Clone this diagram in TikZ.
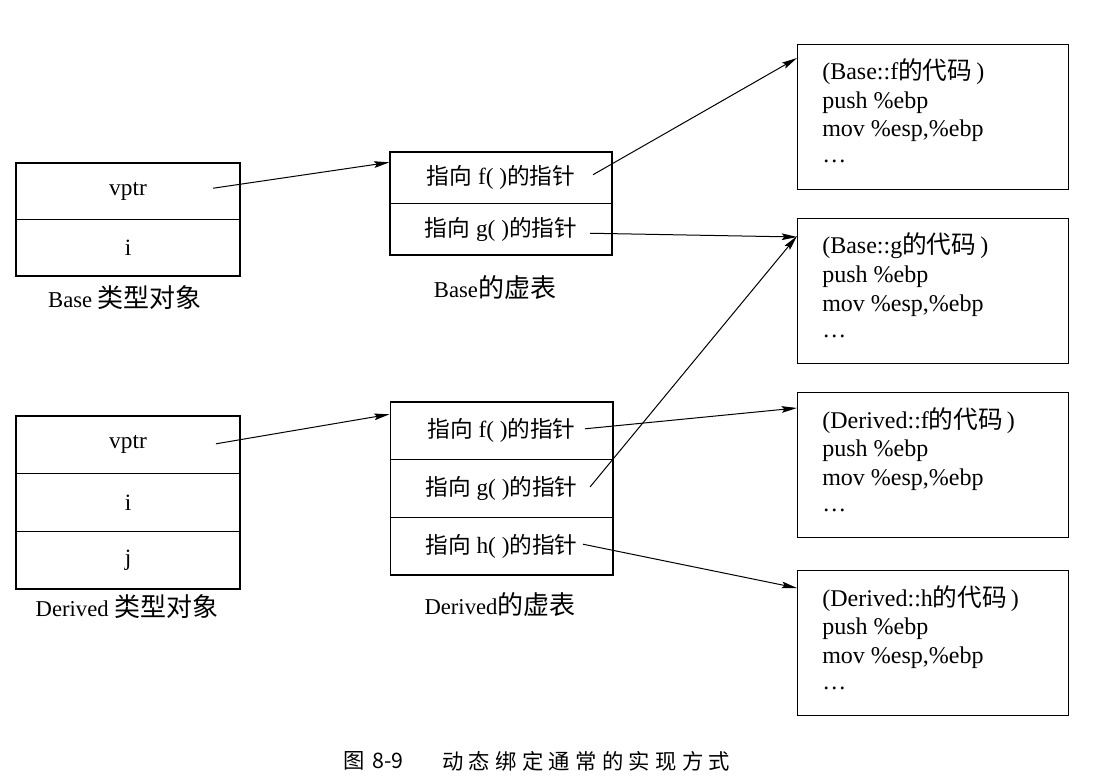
\documentclass[tikz,border=0pt]{standalone}
\usepackage{fontspec}
\setmainfont{Liberation Serif}
\newfontfamily\cjkf{Noto Sans CJK SC}
\newfontfamily\capfont[LetterSpace=25]{Noto Sans CJK SC}
\newcommand\zhc[1]{{\fontsize{17}{17}\cjkf #1}}
\newcommand\zhl[1]{{\fontsize{19.5}{19.5}\cjkf #1}}
\newcommand\zhk[1]{{\fontsize{18.5}{18.5}\cjkf #1}}
\usetikzlibrary{arrows.meta,calc}
\begin{document}
\begin{tikzpicture}[x=0.75pt,y=-0.75pt,
  cell/.style={draw, line width=1pt, inner sep=0pt, font=\fontsize{17.5}{21}\selectfont},
  ocell/.style={cell, minimum width=168pt, minimum height=42.4pt},
  dcell/.style={cell, minimum width=168pt, minimum height=43.25pt},
  bvcell/.style={cell, minimum width=166.5pt, minimum height=38.6pt},
  dvcell/.style={cell, minimum width=167pt, minimum height=43.25pt},
  codebox/.style={draw, line width=1pt, inner sep=0pt, minimum width=203.25pt, minimum height=108.5pt, anchor=north west},
  codeline/.style={inner sep=0pt, anchor=base west, font=\fontsize{18}{21}\selectfont},
  lbl/.style={inner sep=0pt, font=\fontsize{17}{20}\selectfont},
  caption/.style={inner sep=0pt, anchor=west, font=\fontsize{16}{20}\selectfont\capfont},
  arr/.style={line width=0.75pt, -{Stealth[length=11.5pt,width=5pt,inset=2pt]}}
]
\useasboundingbox (0,0) rectangle (1094,780);

% Base object
\node[ocell] (bo1) at (128,191.25) {vptr};
\node[ocell] (bo2) at (128,247.75) {i};
\node[lbl] (bolbl) at (125,298) {Base \zhl{类型对象}};

% Derived object
\node[dcell] (do1) at (128,444.8) {vptr};
\node[dcell] (do2) at (128,502.5) {i};
\node[dcell] (do3) at (128,560.2) {j};
\node[lbl] (dolbl) at (127,607) {Derived \zhl{类型对象}};

% Base vtable
\node[bvcell] (bv1) at (501,177.75) {\zhc{指向} f( )\zhc{的指针}};
\node[bvcell] (bv2) at (501,229.25) {\zhc{指向} g( )\zhc{的指针}};
\node[lbl] (bvlbl) at (495,288) {Base\zhl{的虚表}};

% Derived vtable
\node[dvcell] (dv1) at (501.5,430.8) {\zhc{指向} f( )\zhc{的指针}};
\node[dvcell] (dv2) at (501.5,488.5) {\zhc{指向} g( )\zhc{的指针}};
\node[dvcell] (dv3) at (501.5,546.2) {\zhc{指向} h( )\zhc{的指针}};
\node[lbl] (dvlbl) at (500,605) {Derived\zhl{的虚表}};

% Code boxes
\node[codebox] (cf) at (797,44) {};
\node[codeline] (cf1) at (822,80) {(Base::f\zhk{的代码}\,)};
\node[codeline] (cf2) at (822,108.5) {push \%ebp};
\node[codeline] (cf3) at (822,137) {mov \%esp,\%ebp};
\node[codeline] (cf4) at (822,163) {…};

\node[codebox] (cg) at (797,218) {};
\node[codeline] (cg1) at (822,254) {(Base::g\zhk{的代码}\,)};
\node[codeline] (cg2) at (822,282.5) {push \%ebp};
\node[codeline] (cg3) at (822,311) {mov \%esp,\%ebp};
\node[codeline] (cg4) at (822,337) {…};

\node[codebox] (cdf) at (797,392) {};
\node[codeline] (cdf1) at (822,428) {(Derived::f\zhk{的代码}\,)};
\node[codeline] (cdf2) at (822,456.5) {push \%ebp};
\node[codeline] (cdf3) at (822,485) {mov \%esp,\%ebp};
\node[codeline] (cdf4) at (822,511) {…};

\node[codebox] (cdh) at (797,570) {};
\node[codeline] (cdh1) at (822,606) {(Derived::h\zhk{的代码}\,)};
\node[codeline] (cdh2) at (822,634.5) {push \%ebp};
\node[codeline] (cdh3) at (822,663) {mov \%esp,\%ebp};
\node[codeline] (cdh4) at (822,689) {…};

% Arrows
\draw[arr] ($(bo1.center)+(85,-3)$) -- ($(bv1.north west)+(0,11)$);
\draw[arr] ($(bv1.center)+(92,-3)$) -- ($(cf.north west)+(0,14)$);
\draw[arr] ($(bv2.center)+(89,4)$) -- ($(cg.north west)+(0,19)$);
\draw[arr] ($(do1.center)+(88,-1)$) -- ($(dv1.north west)+(0,13)$);
\draw[arr] ($(dv1.center)+(83.5,-2)$) -- ($(cdf.north west)+(0,16)$);
\draw[arr] ($(dv2.center)+(88.5,-1.5)$) -- ($(cg.north west)+(0,18)$);
\draw[arr] ($(dv3.center)+(81.5,-2)$) -- ($(cdh.north west)+(0,18)$);

% Caption
\node[caption] (cap1) at (343,761) {图\hspace{6pt}{\cjkf 8-9}};
\node[caption] (cap2) at (442,761) {动态绑定通常的实现方式};
\end{tikzpicture}
\end{document}
